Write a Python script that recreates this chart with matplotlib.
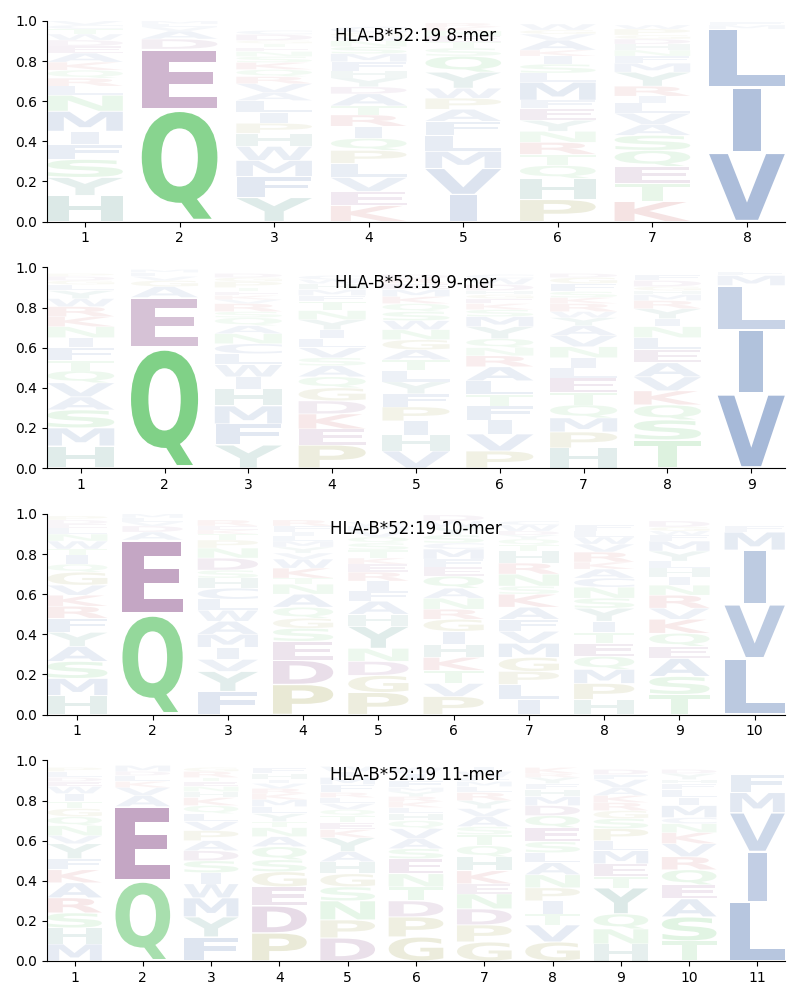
import matplotlib
matplotlib.use("Agg")
from matplotlib import pyplot as plt
from matplotlib.textpath import TextPath
from matplotlib.patches import PathPatch
from matplotlib.font_manager import FontProperties
from matplotlib.transforms import Affine2D

# Letters per position, bottom to top, with their heights
mer8_letters = ["HYSFIMNLRQKAEDWTCV", "QEDAVLM", "YFMWHPILAVRQKSNETGDC",
                "KEVLPQIRTADYHFMSNWGC", "IVMLFAPWYQSTENKR", "PHQTRNYEFMLSIKAVGW",
                "KTEQSAVLIRYMFNHDGPW", "VILMF"]
mer8_heights = [
    [.13, .09, .09, .075, .065, .10, .08, .045, .04, .04, .04, .045, .035, .03, .03, .025, .02, .02],
    [.56, .30, .05, .04, .02, .015, .015],
    [.12, .105, .08, .07, .065, .05, .055, .058, .04, .045, .035, .035, .035, .03, .025, .02, .02, .015, .03, .02],
    [.08, .07, .07, .07, .065, .06, .06, .057, .045, .06, .035, .045, .035, .045, .04, .035, .03, .02, .02, .03],
    [.135, .13, .085, .08, .07, .06, .055, .05, .08, .08, .04, .03, .03, .025, .02, .02],
    [.11, .105, .065, .055, .06, .055, .055, .06, .04, .09, .045, .045, .04, .03, .05, .03, .02, .03],
    [.1, .09, .085, .08, .075, .055, .055, .05, .035, .05, .07, .045, .035, .03, .03, .025, .02, .03, .02],
    [.345, .325, .29, .02, .015],
]

mer9_letters = ["HMSAVQTFINKRWYLGDP", "QEAGVLM", "YFMHIWLCNAQSRVKETPGD",
                "PEKDGQASVLIYNTFMHWC", "VHIPFYLTAGNWSQKMERD", "PVIFTLARNQYMSKEGHDWC",
                "HPMQTELINVAYWRKSFGD", "TSQKVAELNIYRMHGDF", "VILMF"]
mer9_heights = [
    [.11, .09, .09, .065, .07, .06, .05, .065, .05, .055, .05, .05, .04, .04, .03, .02, .02, .015],
    [.6, .25, .055, .03, .02, .02, .015],
    [.115, .105, .09, .085, .06, .06, .055, .05, .05, .04, .04, .03, .04, .02, .02, .02, .02, .03, .02, .02],
    [.115, .08, .075, .065, .065, .055, .055, .04, .05, .045, .045, .05, .045, .045, .03, .03, .03, .02, .02],
    [.085, .08, .07, .07, .065, .06, .055, .055, .05, .05, .05, .045, .045, .04, .035, .035, .03, .025, .02],
    [.085, .085, .07, .07, .055, .07, .07, .055, .04, .045, .06, .05, .035, .03, .025, .02, .02, .03, .03, .02],
    [.1, .08, .07, .065, .06, .075, .05, .05, .055, .055, .05, .04, .03, .04, .03, .03, .04, .03, .02],
    [.14, .1, .075, .07, .07, .07, .065, .06, .055, .04, .05, .04, .03, .02, .02, .03, .03],
    [.37, .32, .22, .05, .02],
]

mer10_letters = ["HMSAYFRKVGQITWNLEDP", "QEADVLM", "FYVIMAWLCHSDNPTKER",
                 "PDESGQANTKWVYMLIFR", "PGDNYHAFIREKTSQVMW", "PVTKHIGRNAQEFMCSYWD",
                 "ILPGMVFAKSNRHTQYDWC", "HPMQETIYSNCAKRVWLF", "TSAEQKVRNIHLYMFWGD", "LVIMF"]
mer10_heights = [
    [.095, .085, .085, .075, .07, .07, .06, .055, .05, .065, .04, .045, .03, .04, .035, .03, .02, .02, .02],
    [.5, .37, .04, .03, .02, .02, .02],
    [.115, .1, .06, .06, .065, .065, .055, .055, .055, .05, .04, .06, .05, .04, .03, .02, .02, .03],
    [.15, .12, .095, .065, .05, .055, .065, .05, .03, .05, .045, .03, .03, .03, .025, .02, .03, .03],
    [.11, .085, .07, .065, .11, .06, .065, .05, .05, .045, .04, .03, .04, .035, .03, .03, .025, .02],
    [.09, .065, .065, .065, .065, .065, .06, .05, .055, .05, .06, .045, .04, .05, .03, .04, .04, .03, .03],
    [.075, .075, .065, .07, .07, .06, .06, .06, .065, .04, .06, .055, .06, .03, .03, .02, .02, .03, .02],
    [.075, .08, .07, .065, .065, .055, .055, .065, .05, .055, .045, .045, .035, .05, .04, .035, .03, .03],
    [.1, .09, .09, .06, .065, .07, .055, .065, .05, .04, .045, .035, .05, .05, .03, .02, .02, .03],
    [.28, .27, .27, .09, .03],
]

mer11_letters = ["MHSRAKFYVNQGTIWEDLP", "QEAVKLDM", "FYMWISDAPVLQKHNETRG",
                 "PDEGSQANTYLMKRVIHF", "DPNSGHAYKETQVLRFMIW", "GPDTNESAVQHLKRYMFIW",
                 "GPDNEKHQTSAVYRLMFWI", "GVTIPNALSEQDMHFYRK", "HNQYTEMLPSGRKAVFD",
                 "TSAEQRVKNCMILFHYD", "LIVMF"]
mer11_heights = [
    [.085, .08, .075, .075, .075, .065, .055, .075, .04, .05, .045, .04, .035, .04, .035, .025, .02, .03, .02],
    [.40, .37, .055, .04, .03, .03, .02, .03],
    [.12, .1, .095, .07, .055, .06, .05, .05, .05, .045, .04, .04, .04, .03, .025, .025, .02, .03, .02],
    [.14, .135, .095, .075, .06, .065, .05, .045, .03, .04, .035, .035, .03, .025, .025, .02, .03, .03],
    [.115, .09, .095, .07, .065, .06, .05, .07, .04, .035, .035, .03, .03, .03, .025, .04, .035, .03, .025],
    [.12, .1, .08, .07, .065, .075, .05, .05, .05, .04, .035, .03, .03, .025, .025, .02, .035, .035, .03],
    [.095, .085, .08, .075, .05, .065, .07, .055, .055, .04, .05, .04, .04, .04, .03, .025, .02, .03, .025],
    [.095, .085, .055, .065, .065, .065, .06, .05, .055, .07, .06, .05, .045, .035, .03, .03, .02, .03],
    [.085, .075, .075, .13, .055, .065, .065, .05, .06, .05, .04, .04, .035, .04, .04, .025, .025],
    [.1, .12, .09, .07, .075, .065, .065, .055, .045, .03, .06, .04, .04, .03, .02, .03, .02],
    [.295, .25, .195, .1, .09],
]

panels = [
    ("HLA-B*52:19 8-mer", mer8_letters, mer8_heights),
    ("HLA-B*52:19 9-mer", mer9_letters, mer9_heights),
    ("HLA-B*52:19 10-mer", mer10_letters, mer10_heights),
    ("HLA-B*52:19 11-mer", mer11_letters, mer11_heights),
]

# colour groups
colors = {}
for c in "AVLIMFWC":
    colors[c] = "#4c72b0"
for c in "QSTN":
    colors[c] = "#5cc466"
for c in "ED":
    colors[c] = "#884c88"
for c in "KR":
    colors[c] = "#c44e52"
for c in "PG":
    colors[c] = "#9a9a40"
for c in "HY":
    colors[c] = "#4c9186"

fp = FontProperties(family="DejaVu Sans", weight="bold")
e_width = TextPath((0, 0), "E", size=1, prop=fp).get_extents().width


def draw_letter(ax, c, x, floor, h, width=0.8, vpad=0.05):
    path = TextPath((0, 0), c, size=1, prop=fp)
    bb = path.get_extents()
    hs = min(width / bb.width, width / e_width)
    shift = (width - hs * bb.width) / 2
    vs = h * (1 - vpad) / bb.height
    tr = (Affine2D().translate(-bb.xmin, -bb.ymin).scale(hs, vs)
          .translate(x - width / 2 + shift, floor + h * vpad / 2))
    alpha = min(1.0, 0.03 + 1.25 * h)
    ax.add_patch(PathPatch(tr.transform_path(path), facecolor=colors[c],
                           edgecolor="none", alpha=alpha))


fig, axes = plt.subplots(4, 1, figsize=(8, 10), dpi=100)
plt.subplots_adjust(left=0.059, right=0.981, top=0.979, bottom=0.039, hspace=0.229)

for ax, (title, letters, heights) in zip(axes, panels):
    n = len(letters)
    for i in range(n):
        floor = 0.0
        for c, h in zip(letters[i], heights[i]):
            draw_letter(ax, c, i + 1, floor, h)
            floor += h
    ax.set_xlim(0.6, n + 0.4)
    ax.set_ylim(0, 1)
    ax.set_xticks(range(1, n + 1))
    ax.set_yticks([0, 0.2, 0.4, 0.6, 0.8, 1.0])
    ax.spines["top"].set_visible(False)
    ax.spines["right"].set_visible(False)
    ax.text(0.5, 0.925, title, transform=ax.transAxes, ha="center", va="center", fontsize=12)

plt.savefig("out.png", dpi=100)
